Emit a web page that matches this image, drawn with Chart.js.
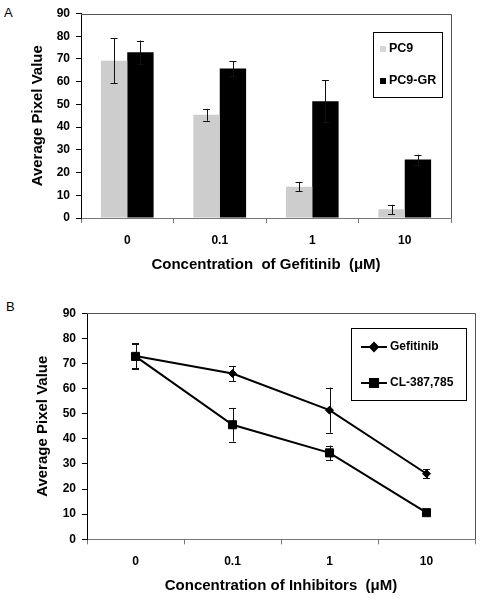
<!DOCTYPE html>
<html><head><meta charset="utf-8">
<script src="https://cdn.jsdelivr.net/npm/chart.js@4.4.0/dist/chart.umd.min.js"></script>
<style>
html,body{margin:0;padding:0;background:#fff;width:485px;height:600px;overflow:hidden;position:relative;font-family:"Liberation Sans",Arial,sans-serif}
#wa{position:absolute;left:0;top:0;width:485px;height:290px}
#wb{position:absolute;left:0;top:300px;width:485px;height:300px}
.lab{position:absolute;font-size:13px;line-height:13px;color:#000}
</style></head><body>
<div class="lab" style="left:4px;top:6px">A</div>
<div class="lab" style="left:6px;top:300px">B</div>
<div id="wa"><canvas id="ca" width="485" height="290"></canvas></div>
<div id="wb"><canvas id="cb" width="485" height="300"></canvas></div>
<script>
// ---- data ----
const categories = ['0', '0.1', '1', '10'];
const yMin = 0, yMax = 90, yStep = 10;

// Panel A (bars)
const pc9Values = [69.2, 45.4, 13.8, 3.8];
const pc9Errors = [10.0, 2.6, 2.1, 2.0];
const pc9grValues = [73.0, 65.8, 51.4, 25.7];
const pc9grErrors = [5.1, 3.3, 9.3, 2.2];

// Panel B (lines)
const gefitinibValues = [73.0, 66.0, 51.4, 26.1];
const gefitinibErrors = [5.0, 3.0, 9.0, 1.7];
const clValues = [72.8, 45.6, 34.4, 10.6];
const clErrors = [5.0, 6.7, 2.9, 1.0];

const titleA_x = 'Concentration  of Gefitinib  (\u03BCM)';
const titleB_x = 'Concentration of Inhibitors  (\u03BCM)';
const titleY = 'Average Pixel Value';

const FONT = '"Liberation Sans", Arial, sans-serif';
Chart.defaults.font.family = FONT;
Chart.defaults.color = '#000';

// error bars plugin (uses library scales)
const errorBars = {
  id: 'errorBars',
  draw(chart) {
    const ctx = chart.ctx, ys = chart.scales.y;
    chart.data.datasets.forEach((ds, di) => {
      if (!ds.errors) return;
      const meta = chart.getDatasetMeta(di);
      meta.data.forEach((el, i) => {
        const v = ds.data[i], e = ds.errors[i];
        const x = el.x, yt = ys.getPixelForValue(v + e), yb = ys.getPixelForValue(v - e);
        const cap = chart.options.plugins.errorBars.cap;
        ctx.save();
        ctx.strokeStyle = '#111'; ctx.lineWidth = 1;
        ctx.beginPath();
        ctx.moveTo(Math.round(x) + 0.5, yt); ctx.lineTo(Math.round(x) + 0.5, yb);
        ctx.moveTo(x - cap, Math.round(yt) + 0.5); ctx.lineTo(x + cap, Math.round(yt) + 0.5);
        ctx.moveTo(x - cap, Math.round(yb) + 0.5); ctx.lineTo(x + cap, Math.round(yb) + 0.5);
        ctx.stroke();
        ctx.restore();
      });
    });
  },
  beforeDatasetsDraw(chart, args, opts) { if (opts.behind) this.draw(chart); },
  afterDatasetsDraw(chart, args, opts) { if (!opts.behind) this.draw(chart); }
};

// frame (top/right borders)
const frame = {
  id: 'frame',
  afterDraw(chart, args, opts) {
    const a = chart.chartArea, ctx = chart.ctx;
    ctx.save();
    ctx.strokeStyle = opts.color; ctx.lineWidth = 1;
    ctx.beginPath();
    ctx.moveTo(Math.round(a.left), Math.round(a.top) + 0.5);
    ctx.lineTo(Math.round(a.right) + 0.5, Math.round(a.top) + 0.5);
    ctx.lineTo(Math.round(a.right) + 0.5, Math.round(a.bottom));
    ctx.stroke();
    ctx.restore();
  }
};

// boxed legend inside plot
const boxLegend = {
  id: 'boxLegend',
  afterDraw(chart, args, o) {
    const ctx = chart.ctx;
    ctx.save();
    ctx.strokeStyle = '#000'; ctx.lineWidth = 1;
    ctx.strokeRect(o.x + 0.5, o.y + 0.5, o.w, o.h);
    ctx.font = 'bold ' + o.size + 'px ' + FONT;
    ctx.textBaseline = 'middle'; ctx.textAlign = 'left'; ctx.fillStyle = '#000';
    chart.data.datasets.forEach((ds, i) => {
      const yy = o.y + o.rows[i];
      if (o.kind === 'bar') {
        ctx.fillStyle = ds.legendColor || ds.backgroundColor;
        ctx.fillRect(o.x + 7, yy - 3, 6, 6);
      } else {
        ctx.strokeStyle = '#000'; ctx.lineWidth = 2;
        ctx.beginPath(); ctx.moveTo(o.x + 10, yy); ctx.lineTo(o.x + 36, yy); ctx.stroke();
        ctx.fillStyle = '#000';
        Chart.helpers.drawPoint(ctx, {pointStyle: ds.pointStyle, radius: ds.pointRadius, borderWidth: 1}, o.x + 23, yy);
        ctx.fill();
      }
      ctx.fillStyle = '#000';
      ctx.fillText(ds.label, o.x + o.tx, yy);
    });
    ctx.restore();
  }
};

function yScale(width) {
  return {
    min: yMin, max: yMax,
    ticks: { stepSize: yStep, font: {size: 12, weight: 'bold'}, color: '#000', padding: 6 },
    grid: { drawOnChartArea: false, drawTicks: true, tickLength: 5, color: '#000' },
    border: { display: true, color: '#000', width: 1 },
    title: { display: true, text: titleY, font: {size: 15, weight: 'bold'}, color: '#000', padding: {top: 4, bottom: 4} },
    afterFit(s) { s.width = width; }
  };
}
function xScale(height, title) {
  return {
    offset: true,
    ticks: { font: {size: 12, weight: 'bold'}, color: '#000', padding: 10, maxRotation: 0 },
    grid: { offset: true, drawOnChartArea: false, drawTicks: true, tickLength: 5, color: '#777' },
    border: { display: true, color: '#777', width: 1 },
    title: { display: true, text: title, font: {size: 15, weight: 'bold'}, color: '#000', padding: {top: 4, bottom: 4} },
    afterFit(s) { s.height = height; }
  };
}

new Chart(document.getElementById('ca'), {
  type: 'bar',
  data: {
    labels: categories,
    datasets: [
      { label: 'PC9', data: pc9Values, errors: pc9Errors, backgroundColor: '#cdcdcd', legendColor: '#d6d6d6',
        categoryPercentage: 0.57, barPercentage: 1.0, borderWidth: 0 },
      { label: 'PC9-GR', data: pc9grValues, errors: pc9grErrors, backgroundColor: '#000',
        categoryPercentage: 0.57, barPercentage: 1.0, borderWidth: 0 }
    ]
  },
  options: {
    responsive: false, animation: false, devicePixelRatio: 1,
    layout: { padding: {left: 25, right: 34, top: 13.5, bottom: 12} },
    scales: { x: xScale(60, titleA_x), y: yScale(56) },
    plugins: {
      legend: {display: false}, tooltip: {enabled: false},
      errorBars: { cap: 3.5, behind: false },
      frame: { color: '#555' },
      boxLegend: { kind: 'bar', x: 373, y: 32, w: 69, h: 65, rows: [17, 49], tx: 16, size: 12.5 }
    }
  },
  plugins: [errorBars, frame, boxLegend]
});

new Chart(document.getElementById('cb'), {
  type: 'line',
  data: {
    labels: categories,
    datasets: [
      { label: 'Gefitinib', data: gefitinibValues, errors: gefitinibErrors, borderColor: '#000', backgroundColor: '#000',
        borderWidth: 2, pointStyle: 'rectRot', pointRadius: 4, pointBorderWidth: 1, pointBackgroundColor: '#000', pointBorderColor: '#000', tension: 0, fill: false },
      { label: 'CL-387,785', data: clValues, errors: clErrors, borderColor: '#000', backgroundColor: '#000',
        borderWidth: 2, pointStyle: 'rect', pointRadius: 5.7, pointBorderWidth: 1, pointBackgroundColor: '#000', pointBorderColor: '#000', tension: 0, fill: false }
    ]
  },
  options: {
    responsive: false, animation: false, devicePixelRatio: 1,
    layout: { padding: {left: 30, right: 10, top: 8.3, bottom: 1} },
    scales: { x: xScale(59.7, titleB_x), y: yScale(57) },
    plugins: {
      legend: {display: false}, tooltip: {enabled: false},
      errorBars: { cap: 3.5, behind: true },
      frame: { color: '#555' },
      boxLegend: { kind: 'line', x: 351, y: 28, w: 115, h: 72, rows: [19, 55], tx: 39, size: 12 }
    }
  },
  plugins: [errorBars, frame, boxLegend]
});
</script>
</body></html>
